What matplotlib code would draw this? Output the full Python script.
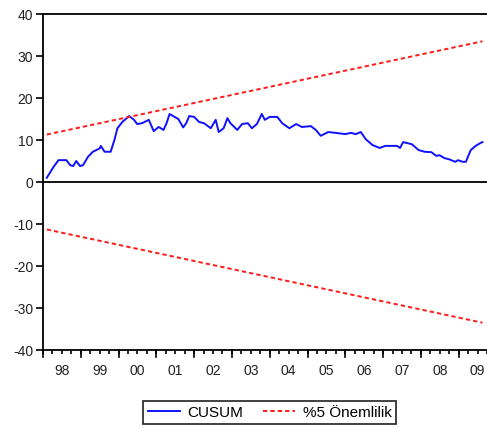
import matplotlib
matplotlib.use("Agg")
from matplotlib import pyplot as plt
import numpy as np

plt.rcParams['font.family'] = ['Liberation Sans', 'DejaVu Sans']
plt.rcParams['axes.unicode_minus'] = False

# CUSUM values (decimal year, value)
cusum_t = [1998.10, 1998.28, 1998.41, 1998.62, 1998.72, 1998.80, 1998.88, 1998.98,
           1999.06, 1999.19, 1999.32, 1999.50, 1999.53, 1999.63, 1999.79, 1999.89,
           1999.97, 2000.10, 2000.28, 2000.41, 2000.49, 2000.62, 2000.80, 2000.93,
           2001.06, 2001.19, 2001.27, 2001.35, 2001.48, 2001.58, 2001.71, 2001.79,
           2001.87, 2002.00, 2002.13, 2002.26, 2002.44, 2002.57, 2002.65, 2002.78,
           2002.88, 2002.96, 2003.14, 2003.27, 2003.42, 2003.53, 2003.66, 2003.79,
           2003.87, 2004.00, 2004.20, 2004.33, 2004.52, 2004.70, 2004.85, 2005.09,
           2005.22, 2005.35, 2005.55, 2005.74, 2006.00, 2006.15, 2006.28, 2006.41,
           2006.54, 2006.72, 2006.91, 2007.06, 2007.37, 2007.45, 2007.53, 2007.76,
           2007.94, 2008.10, 2008.28, 2008.41, 2008.49, 2008.62, 2008.75, 2008.91,
           2008.98, 2009.11, 2009.19, 2009.32, 2009.45, 2009.58, 2009.63]
cusum_v = [1.0, 3.6, 5.2, 5.2, 4.0, 3.8, 5.0, 3.8,
           4.0, 6.0, 7.2, 8.0, 8.6, 7.2, 7.2, 10.0,
           12.8, 14.3, 15.7, 14.8, 13.8, 14.0, 14.8, 12.1,
           13.1, 12.4, 14.0, 16.2, 15.5, 15.0, 13.0, 14.0,
           15.7, 15.5, 14.3, 14.0, 12.8, 14.8, 11.9, 12.8,
           15.2, 14.0, 12.4, 13.8, 14.0, 12.8, 13.8, 16.2,
           14.8, 15.5, 15.5, 14.0, 12.8, 13.8, 13.1, 13.3,
           12.4, 11.0, 11.9, 11.7, 11.4, 11.7, 11.4, 11.9,
           10.2, 8.8, 8.1, 8.6, 8.6, 8.1, 9.5, 9.0,
           7.6, 7.2, 7.1, 6.2, 6.4, 5.7, 5.4, 4.8,
           5.2, 4.8, 4.8, 7.6, 8.6, 9.3, 9.5]

# 5% significance bounds (straight lines, start and end)
bound_t = [1998.10, 2009.63]
upper_v = [11.3, 33.5]
lower_v = [-11.3, -33.5]

years = [1998, 1999, 2000, 2001, 2002, 2003, 2004, 2005, 2006, 2007, 2008, 2009]
year_labels = ["98", "99", "00", "01", "02", "03", "04", "05", "06", "07", "08", "09"]

fig = plt.figure(figsize=(4.87, 4.28), dpi=100)
ax = fig.add_axes([43 / 487, 1 - 350 / 428, 1 - 43 / 487, (350 - 14) / 428])

ax.plot(cusum_t, cusum_v, color="#1010ff", lw=1.4, label="CUSUM")
ax.plot(bound_t, upper_v, color="#ff1a1a", lw=1.4, ls=(0, (2.2, 1.6)), label="%5 Önemlilik")
ax.plot(bound_t, lower_v, color="#ff1a1a", lw=1.4, ls=(0, (2.2, 1.6)))
ax.axhline(0, color="black", lw=1.3)

ax.set_xlim(1998.10, 2009.63)
ax.set_ylim(-40, 40)
ax.set_yticks(np.arange(-40, 41, 10))

# year labels centred in each year, long ticks on year boundaries
ax.set_xticks([y + 0.5 for y in years])
ax.set_xticklabels(year_labels)
ax.set_xticks([y + q for y in years for q in (0.0, 0.25, 0.75)], minor=True)
ax.tick_params(axis="x", which="major", length=3, width=1.2, pad=7)
ax.tick_params(axis="x", which="minor", length=3, width=1.2)
ax.tick_params(axis="y", length=5, width=1.2, pad=2)
ax.tick_params(labelsize=10, labelcolor="#222222")
for y in years:
    ax.plot([y, y], [0, -0.022], color="black", lw=1.2,
            transform=ax.get_xaxis_transform(), clip_on=False)

for side in ("left", "bottom", "top"):
    ax.spines[side].set_linewidth(1.3)
ax.spines["right"].set_visible(False)

leg = fig.legend(loc="center", bbox_to_anchor=(0.554, 0.036), ncol=2,
                 fontsize=11, frameon=True, fancybox=False, edgecolor="black",
                 handlelength=2.1, handletextpad=0.5, columnspacing=1.3,
                 borderpad=0.3)
leg.get_frame().set_linewidth(1.3)

fig.savefig("out.png", dpi=100)
